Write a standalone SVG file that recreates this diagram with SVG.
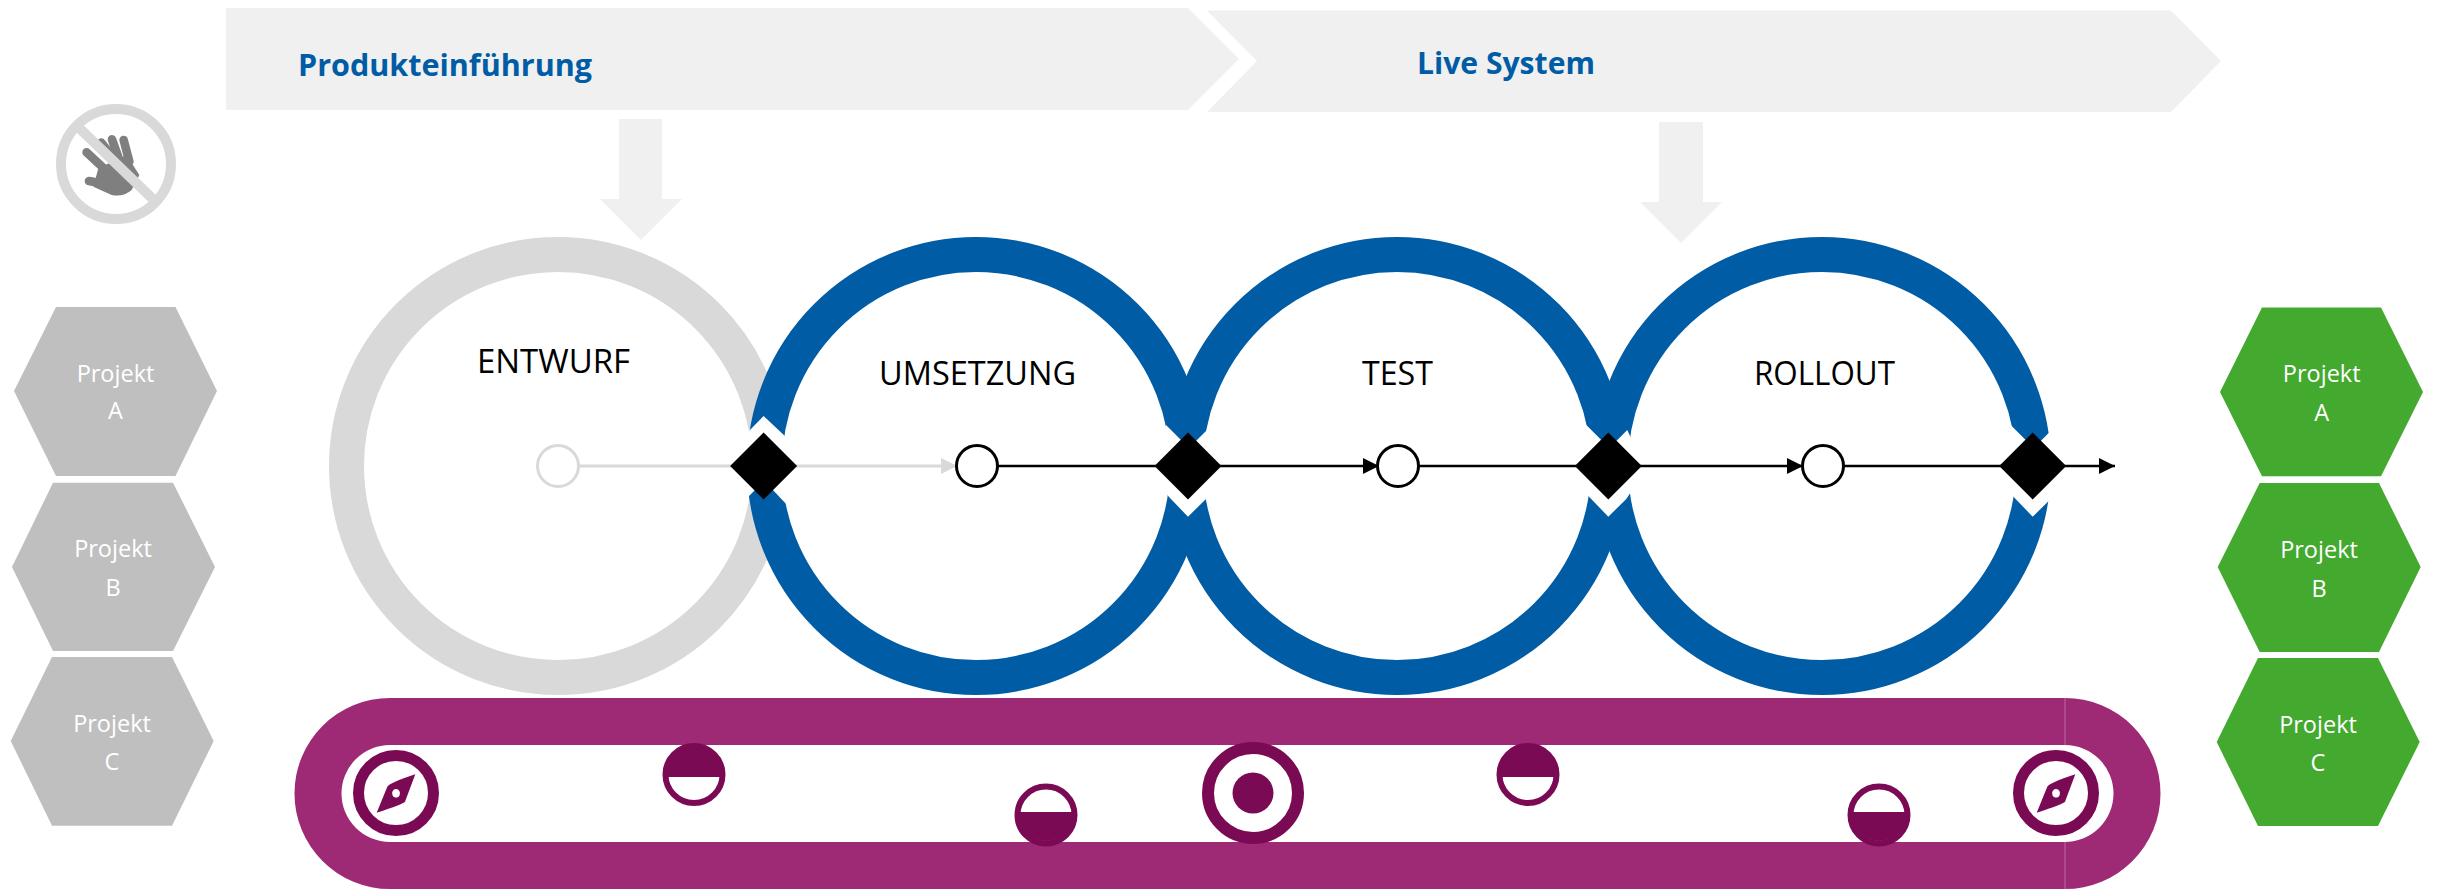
<svg xmlns="http://www.w3.org/2000/svg" xmlns:xlink="http://www.w3.org/1999/xlink" width="2438" height="889" viewBox="0 0 2438 889">
<style>
.banner{fill:#f0f0f0}
.ttl{font-family:"Open Sans","Noto Sans",sans-serif;font-weight:700;font-size:31px;fill:#005ca5}
.lbl{font-family:"Open Sans","Noto Sans",sans-serif;font-size:32px;fill:#000}
.hx{font-family:"Open Sans","Noto Sans",sans-serif;font-size:23.5px;fill:#fff;text-anchor:middle}
.hg{fill:#bfbfbf}.hgr{fill:#43a92f}
.ring{fill:none;stroke:#005ca5;stroke-width:35}
.cut{fill:#fff}
.line{stroke:#000;stroke-width:2.6;fill:none}
.nd{fill:#fff;stroke:#000;stroke-width:3}
.ic{fill:#7b0a55}
</style>
<defs>
<marker id="ah" markerUnits="userSpaceOnUse" markerWidth="16" markerHeight="16" refX="16" refY="8" orient="auto"><path d="M0 0L16 8L0 16Z" fill="#000"/></marker>
<marker id="ahg" markerUnits="userSpaceOnUse" markerWidth="16" markerHeight="16" refX="16" refY="8" orient="auto"><path d="M0 0L16 8L0 16Z" fill="#d9d9d9"/></marker>
<path id="dia" d="M-33.5 0L0 -33.5L33.5 0L0 33.5Z" fill="#000"/>
<g id="cutj" class="cut"><path d="M-22 -41L0 -19V4H-38Z"/><path d="M19 -36L0 -17V4H37Z"/><path d="M-19 31L0 50.7L18 33L37 4H-38Z"/></g>
</defs>

<g id="banner-produkteinfuehrung"><path class="banner" d="M226 8H1188L1239 59L1188 110H226Z"/><text class="ttl" x="298" y="76" textLength="294" lengthAdjust="spacingAndGlyphs">Produkteinführung</text></g>
<g id="banner-live-system"><path class="banner" d="M1207 10.500H2171L2221 61L2171 112H1207L1257 61Z"/><text class="ttl" x="1417" y="74" textLength="178" lengthAdjust="spacingAndGlyphs">Live System</text></g>
<path id="arrow-down-1" class="banner" d="M619 119H662V199H682L641 240L600 199H619Z"/>
<path id="arrow-down-2" class="banner" d="M1659 122H1703V202H1722L1681 243L1640 202H1659Z"/>

<g id="no-touch" transform="translate(30 80) scale(.3333)">
<g fill="none" stroke="#7f7f7f" stroke-width="26" stroke-linecap="round">
<path d="M170 217L232 275"/><path d="M214 188L248 230"/><path d="M246 178L268 240"/><path d="M281 180L298 245"/><path d="M177 303L225 312"/>
</g>
<path d="M205 265L290 225L328 285L305 330Q280 352 245 345L190 320Z" fill="#7f7f7f"/>
<circle cx="258" cy="252" r="165" fill="none" stroke="#d9d9d9" stroke-width="30"/>
<path d="M140 148L375 352" stroke="#d9d9d9" stroke-width="30" fill="none" transform="rotate(3 258 252)"/>
</g>

<g id="hex-left-a"><path class="hg" d="M56 307H175.500L217 391L175.500 476H56L14 391Z"/><text class="hx" x="115.500" y="382">Projekt</text><text class="hx" x="115.500" y="419">A</text></g>
<g id="hex-left-b"><path class="hg" d="M53 482.700H173L215 567L173 651H53L12 567Z"/><text class="hx" x="113" y="557">Projekt</text><text class="hx" x="113" y="596">B</text></g>
<g id="hex-left-c"><path class="hg" d="M52 657H172L213.700 741L172 825.700H52L10.700 741Z"/><text class="hx" x="112" y="732">Projekt</text><text class="hx" x="112" y="770">C</text></g>
<g id="hex-right-a"><path class="hgr" d="M2262 307.600H2381L2423 392L2381 476.300H2262L2220 392Z"/><text class="hx" x="2321.700" y="382">Projekt</text><text class="hx" x="2321.700" y="421">A</text></g>
<g id="hex-right-b"><path class="hgr" d="M2259.700 483H2379L2420.700 567L2379 652H2259.700L2217.700 567Z"/><text class="hx" x="2319" y="557.600">Projekt</text><text class="hx" x="2319" y="597">B</text></g>
<g id="hex-right-c"><path class="hgr" d="M2258 658H2378L2419.700 742L2378 826H2258L2216.700 742Z"/><text class="hx" x="2318" y="732.500">Projekt</text><text class="hx" x="2318" y="771">C</text></g>

<g id="rings">
<circle id="ring-entwurf" cx="558" cy="466" r="211.500" fill="none" stroke="#d9d9d9" stroke-width="35"/>
<circle id="ring-umsetzung" class="ring" cx="976" cy="466" r="211.500"/>
<circle id="ring-test" class="ring" cx="1397" cy="466" r="211.500"/>
<circle id="ring-rollout" class="ring" cx="1822" cy="466" r="211.500"/>
<g id="cuts" class="cut">
<path d="M748 432L763.600 416L787 438L800 470H730Z"/>
<path d="M748 497L762 483L764 470H725Z"/>
<path d="M771 488L788 506L810 470H771Z"/>
<use xlink:href="#cutj" href="#cutj" x="1188" y="466"/>
<use xlink:href="#cutj" href="#cutj" x="1608.300" y="466"/>
<use xlink:href="#cutj" href="#cutj" x="2032.700" y="466"/>
</g>
</g>

<g id="connectors">
<path d="M579 466H957" stroke="#d9d9d9" stroke-width="3" fill="none" marker-end="url(#ahg)"/>
<path class="line" d="M998 466H1379" marker-end="url(#ah)"/>
<path class="line" d="M1419 466H1803" marker-end="url(#ah)"/>
<path class="line" d="M1844 466H2115" marker-end="url(#ah)"/>
</g>

<g id="node-entwurf"><circle cx="558" cy="466" r="20.500" fill="#fff" stroke="#d9d9d9" stroke-width="3"/><text class="lbl" x="477" y="373" textLength="153" lengthAdjust="spacingAndGlyphs">ENTWURF</text></g>
<g id="node-umsetzung"><circle class="nd" cx="977" cy="466" r="20.500"/><text class="lbl" x="879" y="385" textLength="197" lengthAdjust="spacingAndGlyphs">UMSETZUNG</text></g>
<g id="node-test"><circle class="nd" cx="1398" cy="466" r="20.500"/><text class="lbl" x="1362" y="385" textLength="71" lengthAdjust="spacingAndGlyphs">TEST</text></g>
<g id="node-rollout"><circle class="nd" cx="1823" cy="466" r="20.500"/><text class="lbl" x="1754" y="385" textLength="141" lengthAdjust="spacingAndGlyphs">ROLLOUT</text></g>
<g id="gate-1"><use xlink:href="#dia" href="#dia" x="763.600" y="466"/></g>
<g id="gate-2"><use xlink:href="#dia" href="#dia" x="1188" y="466"/></g>
<g id="gate-3"><use xlink:href="#dia" href="#dia" x="1608.300" y="466"/></g>
<g id="gate-4"><use xlink:href="#dia" href="#dia" x="2032.700" y="466"/></g>

<g id="timeline">
<path fill="#9e2a76" fill-rule="evenodd" d="M390 698H2065A95.500 95.500 0 0 1 2065 889H390A95.500 95.500 0 0 1 390 698ZM390 745A48.500 48.500 0 0 0 390 842H2065A48.500 48.500 0 0 0 2065 745Z"/>
<path d="M2065 698V745M2065 842V889" stroke="#b868a0" stroke-width="1" fill="none"/>
</g>
<g id="icon-compass-start"><circle cx="396" cy="793" r="37.500" fill="#fff" stroke="#7b0a55" stroke-width="11"/><path class="ic" fill-rule="evenodd" d="M415.300 774.300L405 801.700Q403 804 376.700 812.700L387.300 786.700Q389 783 415.300 774.300ZM396 789A4 4.300 0 1 0 396.100 789Z"/></g>
<g id="icon-half-1"><circle cx="694" cy="774.500" r="28.500" fill="#fff" stroke="#7b0a55" stroke-width="6"/><path class="ic" d="M665 777A29 29 0 0 1 723 777Z"/></g>
<g id="icon-half-2"><circle cx="1046" cy="815" r="28.500" fill="#fff" stroke="#7b0a55" stroke-width="6"/><path class="ic" d="M1017 812A29 29 0 0 0 1075 812Z"/></g>
<g id="icon-target"><circle cx="1253" cy="793" r="45" fill="#fff" stroke="#7b0a55" stroke-width="12"/><circle class="ic" cx="1253" cy="793" r="20.500"/></g>
<g id="icon-half-3"><circle cx="1528" cy="774.500" r="28.500" fill="#fff" stroke="#7b0a55" stroke-width="6"/><path class="ic" d="M1499 777A29 29 0 0 1 1557 777Z"/></g>
<g id="icon-half-4"><circle cx="1879" cy="815" r="28.500" fill="#fff" stroke="#7b0a55" stroke-width="6"/><path class="ic" d="M1850 812A29 29 0 0 0 1908 812Z"/></g>
<g id="icon-compass-end"><circle cx="2056" cy="793" r="37.500" fill="#fff" stroke="#7b0a55" stroke-width="11"/><path class="ic" fill-rule="evenodd" d="M2075.300 774.300L2065 801.700Q2063 804 2036.700 812.700L2047.300 786.700Q2049 783 2075.300 774.300ZM2056 789A4 4.300 0 1 0 2056.100 789Z"/></g>
</svg>
